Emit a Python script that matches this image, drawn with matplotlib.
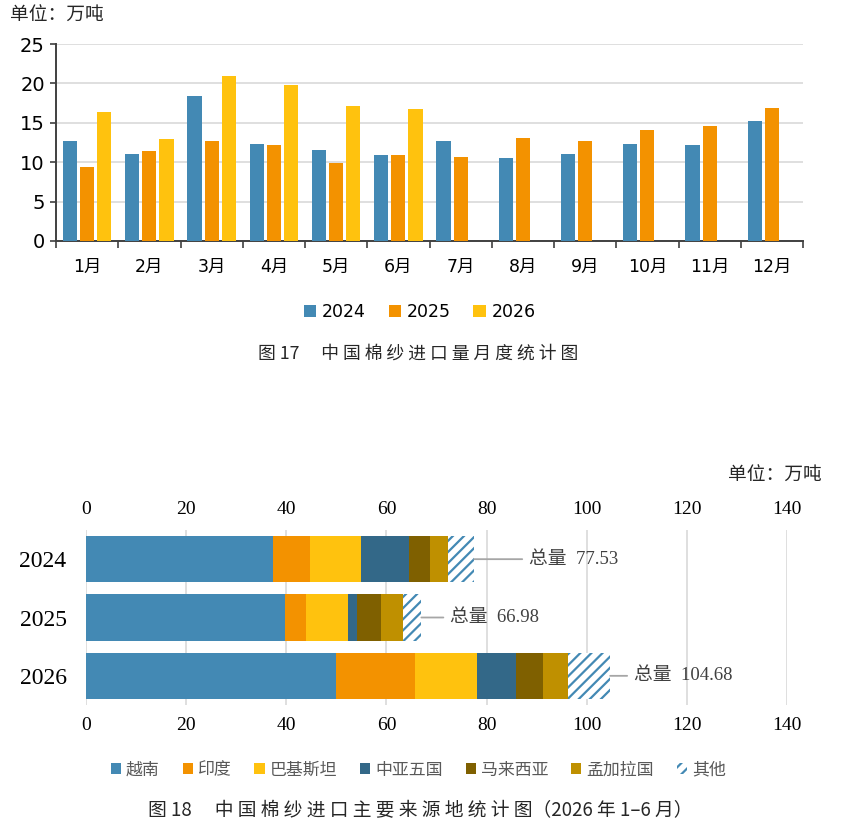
import matplotlib
matplotlib.use("Agg")
import matplotlib.pyplot as plt
import numpy as np
from matplotlib.patches import Patch

plt.rcParams['font.family'] = ['DejaVu Sans', 'Noto Sans CJK SC']
plt.rcParams['hatch.linewidth'] = 1.6

# 图17 数据：中国棉纱进口量（万吨）
meses = ['1月', '2月', '3月', '4月', '5月', '6月', '7月', '8月', '9月', '10月', '11月', '12月']
anios = ['2024', '2025', '2026']
v2024 = [12.7, 11.0, 18.4, 12.3, 11.5, 10.9, 12.7, 10.5, 11.0, 12.3, 12.2, 15.2]
v2025 = [9.4, 11.4, 12.7, 12.2, 9.9, 10.9, 10.6, 13.1, 12.7, 14.1, 14.6, 16.9]
v2026 = [16.4, 12.9, 21.0, 19.8, 17.1, 16.8, np.nan, np.nan, np.nan, np.nan, np.nan, np.nan]

# 图18 数据：主要来源地（万吨）
fuentes = ['越南', '印度', '巴基斯坦', '中亚五国', '马来西亚', '孟加拉国', '其他']
anios_fuente = ['2024', '2025', '2026']
vietnam = [37.4, 39.8, 49.9]
india = [7.3, 4.2, 15.75]
pakistan = [10.3, 8.4, 12.5]
asia_central = [9.6, 1.8, 7.65]
malasia = [4.1, 4.8, 5.4]
banglades = [3.6, 4.3, 5.0]
otros = [5.23, 3.68, 8.48]
totales = [77.53, 66.98, 104.68]

azul = '#4389B4'
naranja = '#F39200'
amarillo = '#FFC20E'
azul_osc = '#336888'
marron = '#7F6000'
oro = '#BF9000'
gris_txt = '#595959'
gris_grid = '#D9D9D9'

fig = plt.figure(figsize=(8.52, 8.34), dpi=100)

# ---------------- 图17 ----------------
ax1 = fig.add_axes([56 / 852, 1 - 241 / 834, (803 - 56) / 852, (241 - 44) / 834])
x = np.arange(len(meses))
paso = 0.275
ancho = 0.227
for i, (serie, color) in enumerate(zip([v2024, v2025, v2026], [azul, naranja, amarillo])):
    ax1.bar(x + (i - 1) * paso, serie, width=ancho, color=color, label=anios[i], zorder=3)

ax1.set_xlim(-0.5, len(meses) - 0.5)
ax1.set_ylim(0, 25)
ax1.set_yticks([0, 5, 10, 15, 20, 25])
ax1.yaxis.grid(True, color=gris_grid, linewidth=1.2, zorder=0)
ax1.set_xticks(x)
ax1.set_xticklabels(meses, fontsize=12.5)
ax1.set_xticks(np.arange(-0.5, len(meses), 1), minor=True)
ax1.tick_params(axis='x', which='major', length=0, pad=12)
ax1.tick_params(axis='x', which='minor', length=5, width=1.2, color='#404040', direction='out')
ax1.tick_params(axis='y', labelsize=14, length=4, width=1.2, color='#404040', pad=4)
for s in ['top', 'right']:
    ax1.spines[s].set_visible(False)
for s in ['left', 'bottom']:
    ax1.spines[s].set_color('#404040')
    ax1.spines[s].set_linewidth(1.4)

leg1 = ax1.legend(loc='upper center', bbox_to_anchor=(0.487, -0.235), ncol=3, frameon=False,
                  fontsize=12.5, handlelength=0.7, handleheight=0.7, handletextpad=0.35,
                  columnspacing=1.3)

fig.text(10 / 852, 1 - 15 / 834, '单位：万吨', fontsize=13.5, family='Noto Sans CJK SC',
         color='#262626', va='center', ha='left')
fig.text(418 / 852, 1 - 354 / 834, '图 17　 中 国 棉 纱 进 口 量 月 度 统 计 图', fontsize=12.8,
         family='Noto Sans CJK SC', color='#262626', va='center', ha='center')

# ---------------- 图18 ----------------
ax2 = fig.add_axes([86 / 852, 1 - 705 / 834, (787 - 86) / 852, (705 - 530) / 834])
y = np.arange(len(anios_fuente))
series = [vietnam, india, pakistan, asia_central, malasia, banglades, otros]
colores = [azul, naranja, amarillo, azul_osc, marron, oro, 'white']
izq = np.zeros(len(anios_fuente))
for nombre, serie, color in zip(fuentes, series, colores):
    if nombre == '其他':
        ax2.barh(y, serie, left=izq, height=0.79, color='white', edgecolor=azul,
                 hatch='///', linewidth=0, zorder=3)
    else:
        ax2.barh(y, serie, left=izq, height=0.79, color=color, linewidth=0, zorder=3)
    izq = izq + np.array(serie)

ax2.set_xlim(0, 140)
ax2.set_ylim(2.5, -0.5)
ax2.set_xticks(np.arange(0, 141, 20))
ax2.xaxis.grid(True, color=gris_grid, linewidth=1.2, zorder=0)
ax2.set_yticks(y)
ax2.set_yticklabels(anios_fuente, family='Liberation Serif', fontsize=17)
ax2.tick_params(axis='y', length=0, pad=14)
ax2.tick_params(axis='x', length=0, labelsize=14, top=True, labeltop=True, pad=9)
for lab in ax2.get_xticklabels():
    lab.set_family('Liberation Serif')
for s in ax2.spines.values():
    s.set_visible(False)

# etiquetas de total con línea guía
guias = [48, 22, 17]
for yi, tot, largo in zip(y, totales, guias):
    ax2.annotate('', xy=(tot, yi), xytext=(largo * 0.72, 0), textcoords='offset points',
                 arrowprops=dict(arrowstyle='-', color='#A6A6A6', lw=1.3, shrinkA=0, shrinkB=0))
    ax2.annotate(f'总量  {tot:.2f}', xy=(tot, yi), xytext=(largo * 0.72 + 5, 0),
                 textcoords='offset points', va='center', ha='left', fontsize=13.5,
                 family=['Liberation Serif', 'Noto Sans CJK SC'], color='#404040')

handles = []
for nombre, color in zip(fuentes, colores):
    if nombre == '其他':
        handles.append(Patch(facecolor='white', edgecolor=azul, hatch='///', linewidth=0, label=nombre))
    else:
        handles.append(Patch(facecolor=color, linewidth=0, label=nombre))
leg2 = ax2.legend(handles=handles, loc='upper center', bbox_to_anchor=(0.474, -0.23), ncol=7,
                  frameon=False, handlelength=0.6, handleheight=0.6, handletextpad=0.3,
                  columnspacing=1.35, prop={'family': 'Noto Sans CJK SC', 'size': 12.2})
for t in leg2.get_texts():
    t.set_color(gris_txt)

fig.text(822 / 852, 1 - 475 / 834, '单位：万吨', fontsize=13.5, family='Noto Sans CJK SC',
         color='#262626', va='center', ha='right')
fig.text(420 / 852, 1 - 811 / 834, '图 18　 中 国 棉 纱 进 口 主 要 来 源 地 统 计 图（2026 年 1–6 月）',
         fontsize=13.5, family=['Noto Sans CJK SC', 'DejaVu Sans'], color='#262626',
         va='center', ha='center')

fig.savefig('out.png', dpi=100)
